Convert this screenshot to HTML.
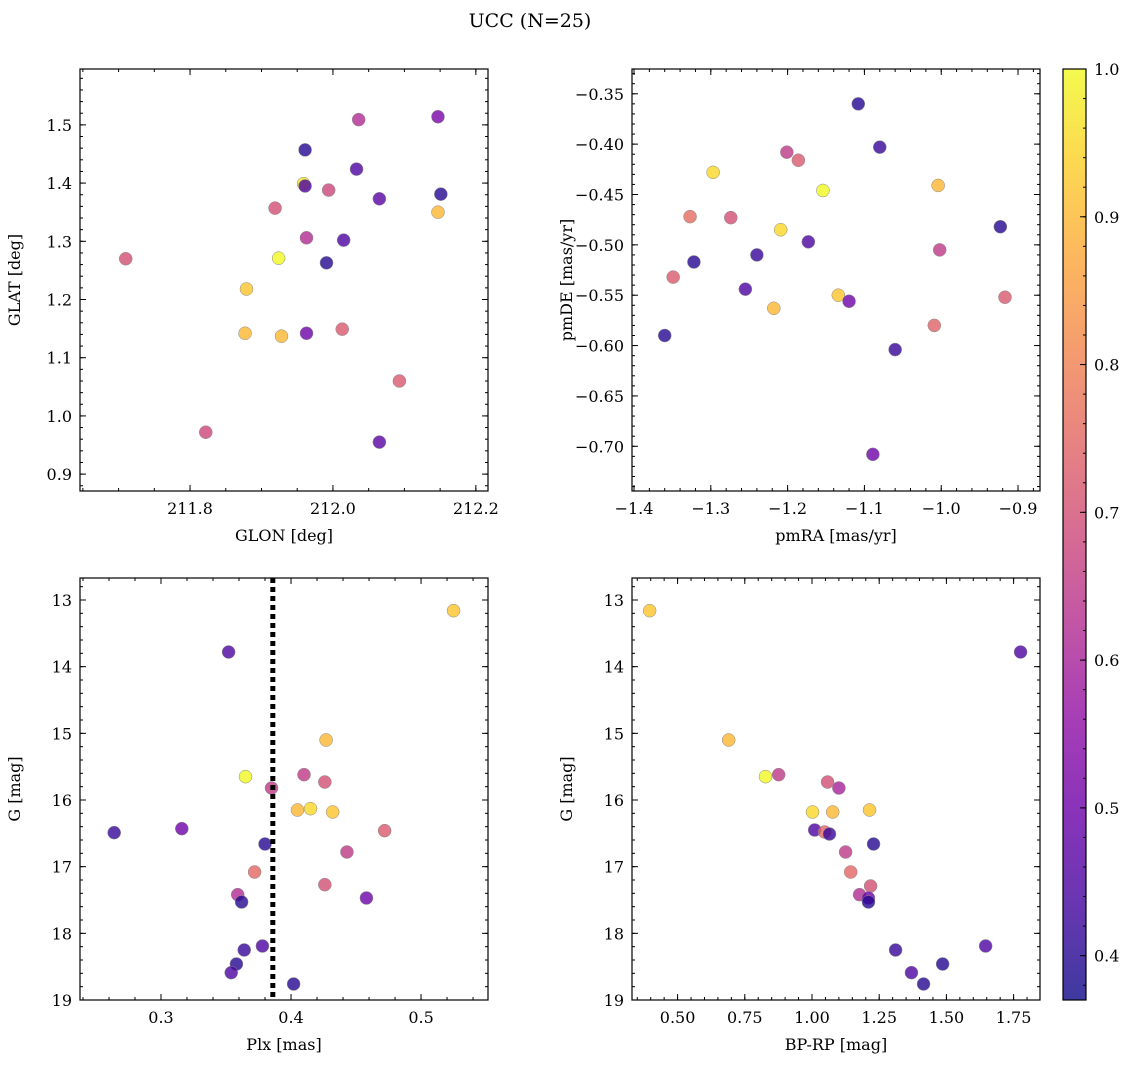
<!DOCTYPE html>
<html><head><meta charset="utf-8"><style>
body{margin:0;background:#fff}
svg text{font-family:"DejaVu Serif","Liberation Serif",serif;fill:#000}
</style></head><body>
<svg id="fig" width="1136" height="1068" xmlns="http://www.w3.org/2000/svg">
<defs><linearGradient id="plasma" x1="0" y1="1" x2="0" y2="0">
<stop offset="0" stop-color="#0d0887"/><stop offset="0.1" stop-color="#41049d"/><stop offset="0.2" stop-color="#6a00a8"/><stop offset="0.3" stop-color="#8f0da4"/><stop offset="0.4" stop-color="#b12a90"/><stop offset="0.5" stop-color="#cc4778"/><stop offset="0.6" stop-color="#e16462"/><stop offset="0.7" stop-color="#f2844b"/><stop offset="0.8" stop-color="#fca636"/><stop offset="0.9" stop-color="#fcce25"/><stop offset="1" stop-color="#f0f921"/></linearGradient></defs>
<text x="530" y="27" text-anchor="middle" font-size="19">UCC (N=25)</text>
</svg>
<script>
// Panel data
const p1x=[211.710,211.822,211.879,211.877,211.928,211.919,211.924,211.959,211.961,211.961,211.963,211.963,211.991,211.994,212.015,212.013,212.033,212.036,212.065,212.065,212.093,212.147,212.151,212.147];
const p1y=[1.27,0.972,1.218,1.142,1.137,1.357,1.271,1.399,1.395,1.457,1.306,1.142,1.263,1.388,1.302,1.149,1.424,1.509,1.373,0.955,1.06,1.514,1.381,1.35];
const p1c=[0.7,0.68,0.92,0.9,0.9,0.7,1.0,0.97,0.45,0.4,0.62,0.5,0.4,0.68,0.45,0.72,0.45,0.62,0.47,0.47,0.72,0.52,0.4,0.9];
const p2x=[-1.108,-1.080,-1.201,-1.186,-1.297,-1.154,-1.004,-1.327,-1.274,-1.209,-1.173,-0.923,-1.002,-1.322,-1.240,-1.349,-1.255,-1.134,-1.120,-0.917,-1.009,-1.218,-1.360,-1.060,-1.089];
const p2y=[-0.36,-0.403,-0.408,-0.416,-0.428,-0.446,-0.441,-0.472,-0.473,-0.485,-0.497,-0.482,-0.505,-0.517,-0.51,-0.532,-0.544,-0.55,-0.556,-0.552,-0.58,-0.563,-0.59,-0.604,-0.708];
const p2c=[0.4,0.42,0.65,0.72,0.95,1.0,0.9,0.76,0.7,0.95,0.45,0.4,0.65,0.4,0.42,0.72,0.45,0.92,0.5,0.72,0.74,0.9,0.4,0.42,0.5];
const p3x=[0.525,0.352,0.427,0.365,0.41,0.426,0.385,0.405,0.415,0.432,0.264,0.316,0.472,0.38,0.443,0.372,0.426,0.359,0.362,0.458,0.364,0.378,0.358,0.354,0.402];
const p3y=[13.16,13.78,15.1,15.65,15.62,15.73,15.82,16.15,16.13,16.18,16.49,16.43,16.46,16.66,16.78,17.08,17.27,17.42,17.53,17.47,18.25,18.19,18.46,18.59,18.76];
const p3c=[0.92,0.45,0.9,1.0,0.65,0.7,0.65,0.9,0.95,0.92,0.42,0.5,0.72,0.4,0.65,0.75,0.7,0.62,0.4,0.5,0.42,0.45,0.4,0.45,0.4];
const p4x=[0.396,1.776,0.69,0.827,0.876,1.058,1.1,1.002,1.077,1.214,1.01,1.047,1.065,1.229,1.125,1.144,1.218,1.177,1.21,1.21,1.311,1.37,1.415,1.486,1.646];
const p4y=[13.16,13.78,15.1,15.65,15.62,15.73,15.82,16.18,16.18,16.15,16.45,16.48,16.51,16.66,16.78,17.08,17.29,17.42,17.47,17.53,18.25,18.59,18.76,18.46,18.19];
const p4c=[0.92,0.45,0.9,1.0,0.65,0.7,0.6,0.95,0.9,0.92,0.45,0.75,0.42,0.4,0.65,0.75,0.7,0.62,0.5,0.4,0.42,0.45,0.4,0.4,0.45];
const cbTicks=[0.4,0.5,0.6,0.7,0.8,0.9,1.0];
const plxLine=0.386;

const svg=document.getElementById('fig');
const NS='http://www.w3.org/2000/svg';
function mk(t,a){const e=document.createElementNS(NS,t);for(const k in a)e.setAttribute(k,a[k]);svg.appendChild(e);return e;}
const stops=[[0,[13,8,135]],[0.1,[65,4,157]],[0.2,[106,0,168]],[0.3,[143,13,164]],[0.4,[177,42,144]],[0.5,[204,71,120]],[0.6,[225,100,98]],[0.7,[242,132,75]],[0.8,[252,166,54]],[0.9,[252,206,37]],[1,[240,249,33]]];
const cmin=0.37,cmax=1.0;
function cmap(v){let t=(v-cmin)/(cmax-cmin);t=Math.max(0,Math.min(1,t));
for(let i=1;i<stops.length;i++){if(t<=stops[i][0]){const a=stops[i-1],b=stops[i];const f=(t-a[0])/(b[0]-a[0]);
return 'rgb('+a[1].map((c,j)=>Math.round(c+(b[1][j]-c)*f)).join(',')+')';}}return 'rgb(240,249,33)';}

function panel(name,box,xd,yd,xt,yt,xfmt,yfmt,xminor,yminor,xl,yl,xs,ys,cs){
 const [L,T,R,B]=box;
 const sx=v=>L+(v-xd[0])/(xd[1]-xd[0])*(R-L);
 const sy=v=>B-(v-yd[0])/(yd[1]-yd[0])*(B-T);
 const fr=mk('rect',{x:L,y:T,width:R-L,height:B-T,fill:'none',stroke:'#000','stroke-width':1.2});
 
 
 const lo=Math.min(xd[0],xd[1]),hi=Math.max(xd[0],xd[1]);
 for(let v=Math.ceil(lo/xminor-1e-9)*xminor;v<=hi+1e-9;v+=xminor){const x=sx(v);
  mk('line',{x1:x,x2:x,y1:B,y2:B-3,stroke:'#000'});mk('line',{x1:x,x2:x,y1:T,y2:T+3,stroke:'#000'});}
 const ylo=Math.min(yd[0],yd[1]),yhi=Math.max(yd[0],yd[1]);
 for(let v=Math.ceil(ylo/yminor-1e-9)*yminor;v<=yhi+1e-9;v+=yminor){const y=sy(v);
  mk('line',{x1:L,x2:L+3,y1:y,y2:y,stroke:'#000'});mk('line',{x1:R,x2:R-3,y1:y,y2:y,stroke:'#000'});}
 xt.forEach(v=>{const x=sx(v);mk('line',{x1:x,x2:x,y1:B,y2:B-6,stroke:'#000'});mk('line',{x1:x,x2:x,y1:T,y2:T+6,stroke:'#000'});
  const t=mk('text',{x:x,y:B+23,'text-anchor':'middle','font-size':16});t.textContent=xfmt(v);
  
  });
 yt.forEach(v=>{const y=sy(v);mk('line',{x1:L,x2:L+6,y1:y,y2:y,stroke:'#000'});mk('line',{x1:R,x2:R-6,y1:y,y2:y,stroke:'#000'});
  const t=mk('text',{x:L-8,y:y+6,'text-anchor':'end','font-size':16});t.textContent=yfmt(v);
  
  });
 const xt2=mk('text',{x:(L+R)/2,y:B+50,'text-anchor':'middle','font-size':16});xt2.textContent=xl;
 
 
 const yt2=mk('text',{x:0,y:0,'text-anchor':'middle','font-size':16,transform:'translate('+(L-60)+','+((T+B)/2)+') rotate(-90)'});yt2.textContent=yl;
 
 
 xs.forEach((v,i)=>{const c=mk('circle',{cx:sx(v),cy:sy(ys[i]),r:6.5,fill:cmap(cs[i]),'fill-opacity':0.8,stroke:'#888','stroke-width':0.5});
  
  });
 return {sx,sy};
}
const f1=v=>v.toFixed(1),f2=v=>v.toFixed(2),fm=v=>(v<0?'\u2212':'')+Math.abs(v).toFixed(2),fm1=v=>(v<0?'\u2212':'')+Math.abs(v).toFixed(1),fi=v=>String(Math.round(v));
panel('glon-glat',[80,69,488,491],[211.646,212.217],[0.871,1.596],[211.8,212.0,212.2],[0.9,1.0,1.1,1.2,1.3,1.4,1.5],f1,f1,0.05,0.02,'GLON [deg]','GLAT [deg]',p1x,p1y,p1c);
panel('pm',[632,69,1040,491],[-1.4026,-0.8714],[-0.7444,-0.3254],[-1.4,-1.3,-1.2,-1.1,-1.0,-0.9],[-0.70,-0.65,-0.60,-0.55,-0.50,-0.45,-0.40,-0.35],fm1,fm,0.02,0.01,'pmRA [mas/yr]','pmDE [mas/yr]',p2x,p2y,p2c);
const a3=panel('plx-g',[80,578,488,1000],[0.2377,0.5515],[19.0,12.67],[0.3,0.4,0.5],[13,14,15,16,17,18,19],f1,fi,0.02,0.2,'Plx [mas]','G [mag]',p3x,p3y,p3c);
const dl=mk('line',{x1:a3.sx(plxLine),x2:a3.sx(plxLine),y1:578,y2:1000,stroke:'#000','stroke-width':5,'stroke-dasharray':'5,4'});


panel('color-g',[632,578,1040,1000],[0.3304,1.8482],[19.0,12.67],[0.5,0.75,1.0,1.25,1.5,1.75],[13,14,15,16,17,18,19],f2,fi,0.05,0.2,'BP-RP [mag]','G [mag]',p4x,p4y,p4c);
// colorbar
const cb=mk('rect',{x:1063,y:69,width:23,height:931,fill:'url(#plasma)','fill-opacity':0.8,stroke:'#000','stroke-width':1.2});


const cy=v=>1000-(v-cmin)/(cmax-cmin)*931;
for(let v=0.38;v<=1.0001;v+=0.02){mk('line',{x1:1086,x2:1083,y1:cy(v),y2:cy(v),stroke:'#000'});}
cbTicks.forEach(v=>{mk('line',{x1:1086,x2:1080,y1:cy(v),y2:cy(v),stroke:'#000'});
 const t=mk('text',{x:1094,y:cy(v)+6,'font-size':16});t.textContent=v.toFixed(1);
 
 });
</script>
</body></html>
